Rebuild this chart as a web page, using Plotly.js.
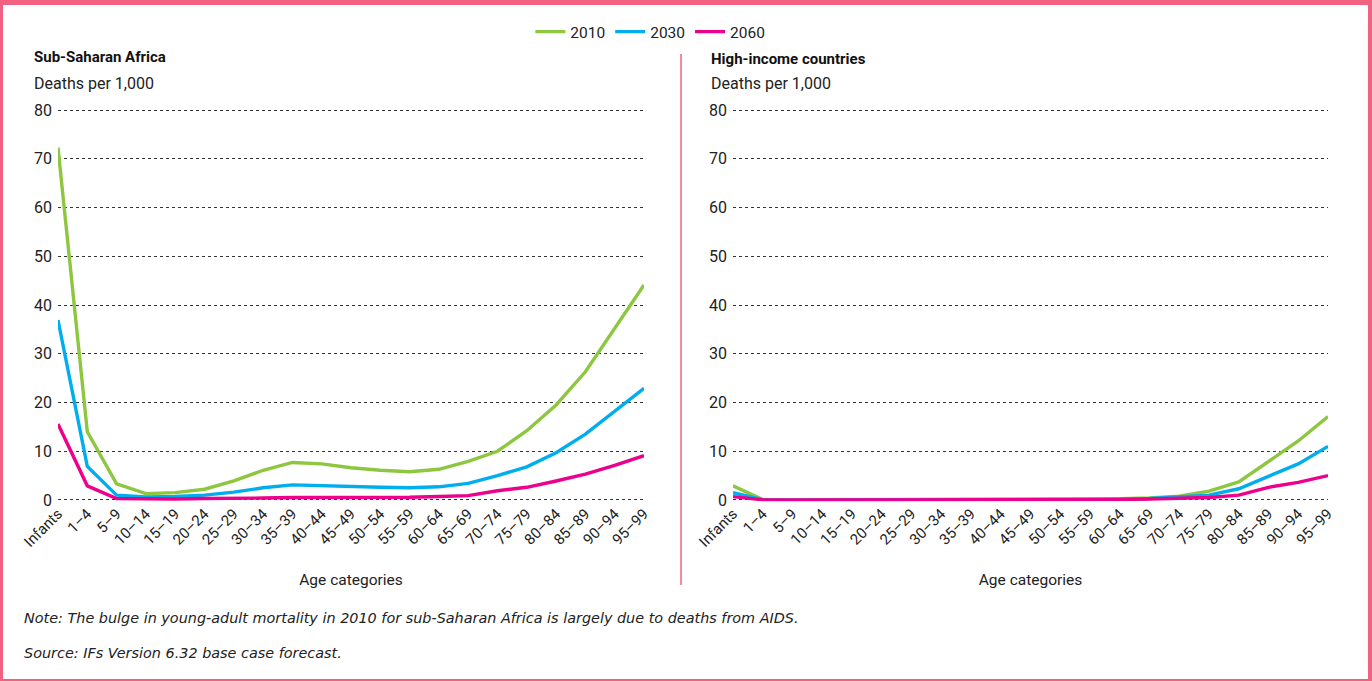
<!DOCTYPE html>
<html>
<head>
<meta charset="utf-8">
<script src="https://cdn.plot.ly/plotly-3.0.1.min.js"></script>
<style>
html,body{margin:0;padding:0;background:#fff;}
#chart{width:1372px;height:681px;}
</style>
</head>
<body>
<div id="chart"></div>
<script>
const ageCategories = ["Infants","1–4","5–9","10–14","15–19","20–24","25–29","30–34","35–39","40–44","45–49","50–54","55–59","60–64","65–69","70–74","75–79","80–84","85–89","90–94","95–99"];

const ssa2010 = [72.3,14.0,3.3,1.3,1.5,2.2,3.9,6.1,7.7,7.4,6.6,6.1,5.8,6.3,7.9,10.0,14.2,19.5,26.3,35.3,44.1];
const ssa2030 = [36.9,6.9,1.0,0.6,0.7,1.0,1.6,2.5,3.1,2.9,2.7,2.6,2.5,2.7,3.4,5.0,6.8,9.7,13.5,18.1,22.9];
const ssa2060 = [15.6,2.9,0.3,0.2,0.2,0.3,0.3,0.4,0.5,0.5,0.5,0.5,0.55,0.7,0.9,1.9,2.6,3.9,5.3,7.1,9.1];

const hic2010 = [2.9,0.1,0.05,0.05,0.05,0.05,0.05,0.1,0.1,0.15,0.15,0.15,0.2,0.25,0.4,0.8,1.8,3.7,7.9,12.1,17.1];
const hic2030 = [1.5,0.05,0.03,0.03,0.03,0.03,0.04,0.05,0.06,0.08,0.1,0.1,0.12,0.15,0.3,0.6,1.0,2.3,4.9,7.4,11.0];
const hic2060 = [0.7,0.03,0.02,0.02,0.02,0.02,0.02,0.03,0.04,0.05,0.06,0.07,0.08,0.1,0.2,0.4,0.5,1.0,2.6,3.6,5.0];

const seriesNames = ["2010","2030","2060"];
const seriesColors = ["#8DC63F","#00AEEF","#EC008C"];
const yTicks = [0,10,20,30,40,50,60,70,80];

const W = 1372, H = 681;
const px = x => x / W;
const py = y => 1 - y / H;
const FONT = "Roboto, 'DejaVu Sans', sans-serif";
const NOTEFONT = "'DejaVu Sans', sans-serif";
const PINK = "#F0627F";

const traces = [];
[ssa2010, ssa2030, ssa2060].forEach((d, i) => {
  traces.push({x: ageCategories, y: d, type: 'scatter', mode: 'lines', name: seriesNames[i],
    line: {color: seriesColors[i], width: 3.4}, xaxis: 'x', yaxis: 'y', legendgroup: seriesNames[i]});
});
[hic2010, hic2030, hic2060].forEach((d, i) => {
  traces.push({x: ageCategories, y: d, type: 'scatter', mode: 'lines', name: seriesNames[i],
    line: {color: seriesColors[i], width: 3.4}, xaxis: 'x2', yaxis: 'y2', legendgroup: seriesNames[i], showlegend: false});
});

const xaxisBase = {
  type: 'category', range: [0, ageCategories.length - 1], tickangle: -45,
  showgrid: false, zeroline: false, showline: false, ticks: '',
  tickfont: {family: FONT, size: 15, color: '#222'}, fixedrange: true,
  title: {text: 'Age categories', font: {family: FONT, size: 15.5, color: '#222'}, standoff: 24}
};
const yaxisBase = {
  range: [-0.25, 80.25], tickvals: yTicks, showgrid: true, gridcolor: '#333', griddash: 'dot', gridwidth: 1,
  zeroline: false, showline: false, ticks: '', ticklabelstandoff: 5,
  tickfont: {family: FONT, size: 16, color: '#222'}, fixedrange: true
};

const layout = {
  width: W, height: H,
  margin: {l: 0, r: 0, t: 0, b: 0},
  paper_bgcolor: '#fff', plot_bgcolor: 'rgba(0,0,0,0)',
  showlegend: true,
  legend: {orientation: 'h', x: 0.474, xanchor: 'center', y: py(32), yanchor: 'middle',
    font: {family: FONT, size: 15.5, color: '#222'}, itemwidth: 30, tracegroupgap: 0},
  xaxis: Object.assign({}, xaxisBase, {domain: [px(58), px(644)], anchor: 'y'}),
  yaxis: Object.assign({}, yaxisBase, {domain: [py(501.2), py(108.8)], anchor: 'x'}),
  xaxis2: Object.assign({}, xaxisBase, {domain: [px(733), px(1328)], anchor: 'y2'}),
  yaxis2: Object.assign({}, yaxisBase, {domain: [py(501.2), py(108.8)], anchor: 'x2'}),
  annotations: [
    {text: '<b>Sub-Saharan Africa</b>', xref: 'paper', yref: 'paper', x: px(32), y: py(57), xanchor: 'left', yanchor: 'middle', showarrow: false, font: {family: FONT, size: 15, color: '#111'}},
    {text: 'Deaths per 1,000', xref: 'paper', yref: 'paper', x: px(32), y: py(84), xanchor: 'left', yanchor: 'middle', showarrow: false, font: {family: FONT, size: 16, color: '#222'}},
    {text: '<b>High-income countries</b>', xref: 'paper', yref: 'paper', x: px(709), y: py(59), xanchor: 'left', yanchor: 'middle', showarrow: false, font: {family: FONT, size: 15, color: '#111'}},
    {text: 'Deaths per 1,000', xref: 'paper', yref: 'paper', x: px(709), y: py(84), xanchor: 'left', yanchor: 'middle', showarrow: false, font: {family: FONT, size: 16, color: '#222'}},
    {text: '<i>Note: The bulge in young-adult mortality in 2010 for sub-Saharan Africa is largely due to deaths from AIDS.</i>', xref: 'paper', yref: 'paper', x: px(22), y: py(618), xanchor: 'left', yanchor: 'middle', showarrow: false, font: {family: NOTEFONT, size: 14.4, color: '#222'}},
    {text: '<i>Source: IFs Version 6.32 base case forecast.</i>', xref: 'paper', yref: 'paper', x: px(22), y: py(653), xanchor: 'left', yanchor: 'middle', showarrow: false, font: {family: NOTEFONT, size: 14.4, color: '#222'}}
  ],
  shapes: [
    {type: 'rect', xref: 'paper', yref: 'paper', x0: 0, x1: 1, y0: py(5), y1: 1, fillcolor: PINK, line: {width: 0}},
    {type: 'rect', xref: 'paper', yref: 'paper', x0: 0, x1: px(3), y0: 0, y1: 1, fillcolor: PINK, line: {width: 0}},
    {type: 'rect', xref: 'paper', yref: 'paper', x0: px(1368), x1: 1, y0: 0, y1: 1, fillcolor: PINK, line: {width: 0}},
    {type: 'rect', xref: 'paper', yref: 'paper', x0: 0, x1: 1, y0: 0, y1: py(679), fillcolor: PINK, line: {width: 0}},
    {type: 'line', xref: 'paper', yref: 'paper', x0: px(681), x1: px(681), y0: py(54), y1: py(585), line: {color: PINK, width: 1.5}}
  ]
};

Plotly.newPlot('chart', traces, layout, {displayModeBar: false, staticPlot: true});
</script>
</body>
</html>
